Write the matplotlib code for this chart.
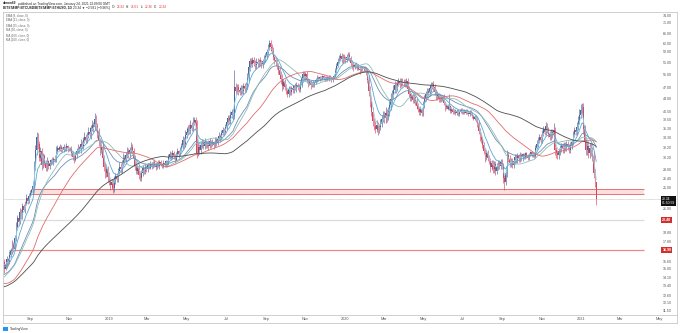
import numpy as np
import pandas as pd
import matplotlib
matplotlib.use('Agg')
import matplotlib.pyplot as plt
import matplotlib.dates as mdates
import matplotlib.transforms as mtransforms

# --- data (BTCUSD/ETHUSD ratio, sampled every 2 days) ---
# closes before the visible window, only used to warm up the moving averages
warmup_close = [
    13.0, 12.2, 11.6, 10.9, 10.5, 10.2, 10.8, 10.4, 9.9, 10.3, 9.7, 9.5, 9.8, 9.4,
    9.6, 9.9, 10.4, 10.8, 11.2, 10.9, 11.3, 11.0, 11.6, 12.0, 11.7, 12.1, 12.4, 12.2,
    12.6, 13.1, 13.5, 13.9, 14.3, 13.8, 14.2, 14.6, 15.1, 15.6, 16.2, 16.8, 17.3, 17.0, 17.6, 17.2,
    17.9, 18.3, 17.8, 17.4, 16.9, 16.2, 15.8, 15.3, 14.9, 14.4, 14.0, 13.6, 13.9, 13.5, 13.2,
    12.9, 12.7, 12.5, 12.2, 12.6, 12.4, 12.1, 12.3, 12.0, 12.5, 12.8, 12.6, 13.0, 12.7, 12.9,
    12.6, 12.8, 12.4, 12.7, 13.0, 12.8, 13.2, 13.5, 13.3, 13.8, 13.6, 14.0, 13.7, 14.1, 14.3,
    14.0, 14.4, 14.8, 14.5, 15.1, 15.5, 15.2, 15.8, 15.4, 15.9, 15.6,
]

first_bar = '2018-07-23'
bar_days = 2
close = [
    15.0, 15.4, 15.9, 15.6, 16.3,  # Jul 18
    16.8, 17.4, 17.0, 18.2, 19.5, 20.6, 20.1, 21.4, 21.0, 22.3, 21.8, 22.6, 23.4, 23.0, 23.8,  # Aug
    24.2, 24.6, 25.3, 28.5, 31.8, 34.6, 33.0, 30.2, 31.5, 28.9, 30.6, 29.3, 28.4, 29.6, 28.7,  # Sep
    29.2, 29.8, 29.4, 30.1, 29.7, 31.6, 32.2, 31.8, 32.4, 32.0, 31.7, 32.3, 31.9, 32.5, 32.1, 31.8,  # Oct
    32.0, 31.2, 30.4, 29.9, 30.8, 31.5, 32.3, 31.9, 33.0, 32.6, 33.8, 34.5, 33.9, 35.0, 35.6,  # Nov
    35.2, 36.5, 37.2, 36.8, 38.6, 37.0, 35.4, 33.6, 31.8, 32.4, 30.2, 28.6, 27.4, 28.2, 26.8,  # Dec
    26.0, 25.4, 25.9, 24.9, 26.1, 27.0, 26.5, 27.8, 28.6, 28.1, 29.3, 30.2, 29.6, 30.8, 31.5, 30.9,  # Jan 19
    31.8, 32.4, 31.6, 30.2, 28.8, 27.9, 28.4, 27.2, 26.6, 27.5, 28.3, 27.8, 28.6, 28.2,  # Feb
    28.9, 28.4, 29.1, 28.7, 29.4, 28.9, 28.5, 29.2, 28.8, 29.5, 29.0, 28.6, 29.3, 28.9, 29.6,  # Mar
    29.2, 30.3, 31.0, 30.4, 31.2, 30.6, 29.9, 30.8, 31.5, 30.9, 31.8, 32.6, 33.8, 33.1, 34.9,  # Apr
    35.6, 36.4, 35.8, 37.2, 36.6, 37.9, 38.5, 37.6, 31.2, 32.4, 31.7, 32.8, 33.3, 32.6, 33.5, 32.9,  # May
    33.2, 32.5, 33.6, 32.9, 33.4, 32.7, 33.8, 33.2, 34.1, 34.8, 34.2, 35.3, 36.1, 35.7, 36.8,  # Jun
    37.9, 38.8, 38.2, 39.6, 40.3, 39.5, 47.2, 46.1, 47.4, 46.5, 45.8, 47.0, 46.3, 47.5, 46.8,  # Jul
    47.8, 50.2, 53.6, 55.8, 54.9, 56.2, 55.1, 54.3, 55.6, 54.8, 56.0, 55.2, 54.6, 55.9, 56.7, 57.5,  # Aug
    59.2, 61.0, 62.4, 60.8, 59.6, 57.2, 56.0, 55.3, 54.1, 52.6, 51.2, 49.8, 47.6, 48.9, 47.3,  # Sep
    46.2, 45.4, 46.8, 45.9, 47.1, 46.4, 47.6, 46.9, 48.0, 47.3, 46.8, 48.2, 50.1, 51.3, 50.6,  # Oct
    51.4, 49.6, 48.3, 48.9, 47.8, 48.5, 47.9, 48.8, 49.5, 50.2, 49.7, 50.4, 49.9, 50.6, 50.1,  # Nov
    49.6, 50.3, 49.8, 50.5, 50.0, 49.5, 50.2, 50.8, 52.4, 54.1, 55.6, 56.8, 57.5, 56.4, 57.2, 56.6,  # Dec
    56.1, 57.3, 58.1, 56.9, 55.2, 54.3, 53.6, 54.5, 53.8, 54.2, 53.1, 52.6, 53.5, 52.9, 53.4,  # Jan 20
    52.8, 52.1, 49.6, 46.2, 43.1, 40.5, 38.2, 37.1, 36.4, 37.2, 36.0, 36.8, 37.5, 38.6, 39.4,  # Feb
    38.8, 40.1, 39.5, 40.6, 42.3, 43.8, 45.2, 46.4, 47.8, 47.1, 48.5, 49.2, 48.4, 49.0, 48.6,  # Mar
    48.9, 48.2, 49.1, 46.8, 45.2, 44.1, 44.8, 43.6, 44.3, 43.2, 42.0, 41.2, 40.5, 41.1, 40.2,  # Apr
    42.4, 44.1, 45.3, 46.2, 45.6, 46.9, 47.8, 48.3, 47.2, 45.9, 44.6, 45.2, 43.9, 44.5, 43.8, 44.3,  # May
    42.8, 41.6, 42.1, 41.3, 41.9, 40.6, 41.2, 40.3, 40.9, 40.1, 40.7, 39.9, 40.5, 41.0, 40.4,  # Jun
    40.8, 40.2, 40.9, 40.4, 39.8, 40.5, 40.0, 39.3, 38.7, 39.2, 38.4, 37.6, 35.8, 34.6, 33.9,  # Jul
    32.8, 31.6, 30.4, 31.1, 30.2, 29.6, 28.5, 29.2, 28.1, 29.0, 27.9, 28.6, 29.3, 28.8, 29.5, 28.7,  # Aug
    26.6, 25.9, 27.4, 30.8, 30.1, 29.2, 29.7, 28.9, 29.6, 30.3, 29.8, 30.6, 30.1, 30.8, 30.3,  # Sep
    30.9, 30.4, 31.1, 30.6, 30.2, 30.9, 31.3, 30.7, 31.0, 30.5, 32.2, 33.1, 33.8, 34.5, 33.9,  # Oct
    35.4, 36.2, 35.7, 36.9, 36.1, 35.2, 34.6, 35.5, 34.9, 36.0, 31.8, 31.2, 30.7, 31.5, 32.1,  # Nov
    32.6, 31.9, 32.8, 32.3, 33.0, 32.4, 31.8, 32.7, 33.4, 35.2, 36.1, 35.6, 36.8, 38.2, 39.6, 40.8,  # Dec
    41.6, 36.2, 33.4, 31.8, 32.6, 31.2, 32.2, 31.5, 30.6, 27.4, 25.9, 23.34,  # Jan 21
]

# wick lengths in percent above max(open, close) / below min(open, close)
wick_up = [
    2, 1, 2, 1, 3,
    2, 3, 2, 2, 3, 2, 1, 3, 2, 2, 1, 2, 3, 1, 2,
    2, 1, 3, 4, 3, 3, 2, 2, 3, 2, 2, 1, 2, 3, 1,
    2, 1, 2, 1, 2, 3, 2, 1, 2, 1, 1, 2, 1, 2, 1, 1,
    1, 2, 1, 1, 2, 2, 2, 1, 3, 2, 2, 3, 2, 2, 3,
    3, 2, 3, 2, 4, 3, 2, 3, 2, 4, 3, 2, 3, 3, 2,
    3, 2, 2, 2, 3, 2, 2, 2, 3, 2, 2, 3, 2, 2, 3, 2,
    2, 3, 2, 2, 2, 3, 2, 2, 2, 2, 2, 1, 2, 1,
    1, 1, 2, 1, 1, 2, 1, 1, 2, 1, 1, 1, 2, 1, 1,
    1, 2, 2, 1, 2, 1, 1, 2, 2, 1, 2, 2, 3, 2, 3,
    3, 2, 3, 3, 2, 3, 2, 2, 2, 3, 2, 2, 2, 2, 2, 1,
    1, 2, 2, 1, 2, 1, 2, 2, 2, 2, 1, 2, 2, 1, 2,
    2, 2, 2, 3, 2, 2, 12, 3, 2, 2, 2, 2, 2, 2, 2,
    2, 3, 3, 2, 2, 2, 2, 2, 2, 2, 1, 2, 2, 1, 2, 2,
    2, 2, 2, 2, 2, 2, 1, 2, 2, 2, 2, 2, 3, 2, 2,
    2, 1, 2, 2, 1, 2, 1, 2, 2, 1, 2, 2, 2, 2, 2,
    1, 2, 1, 2, 1, 1, 2, 1, 1, 2, 1, 1, 1, 1, 1,
    1, 1, 1, 1, 1, 1, 1, 1, 2, 2, 2, 2, 2, 2, 2, 2,
    2, 2, 2, 2, 1, 2, 2, 1, 2, 1, 1, 2, 1, 1, 1,
    1, 2, 2, 3, 3, 3, 3, 2, 3, 3, 2, 2, 3, 3, 3,
    3, 4, 3, 3, 4, 4, 3, 3, 3, 2, 2, 2, 2, 2, 2,
    2, 2, 2, 2, 2, 2, 2, 2, 2, 1, 2, 2, 1, 2, 1,
    2, 2, 2, 2, 2, 2, 2, 1, 2, 2, 2, 2, 1, 2, 1, 1,
    2, 1, 1, 1, 8, 1, 1, 1, 1, 1, 1, 1, 1, 1, 1,
    1, 1, 1, 1, 1, 1, 1, 1, 1, 1, 1, 2, 2, 2, 2,
    2, 2, 2, 2, 2, 2, 2, 2, 2, 2, 2, 2, 2, 2, 2, 2,
    2, 2, 3, 3, 2, 2, 2, 2, 2, 2, 2, 2, 1, 2, 1,
    1, 1, 1, 1, 1, 1, 1, 1, 1, 1, 2, 2, 2, 2, 2,
    2, 2, 2, 3, 2, 2, 2, 2, 2, 5, 2, 2, 2, 2, 2,
    2, 2, 2, 2, 2, 2, 2, 2, 2, 2, 2, 2, 3, 3, 4, 4,
    3, 3, 3, 3, 3, 3, 3, 3, 3, 3, 3, 0,
]
wick_down = [
    3, 1, 2, 2, 1,
    1, 2, 2, 1, 2, 2, 2, 1, 2, 2, 1, 2, 1, 2, 1,
    1, 1, 2, 2, 2, 3, 3, 2, 2, 3, 2, 2, 2, 2, 2,
    2, 1, 1, 2, 1, 1, 2, 1, 1, 2, 1, 1, 1, 1, 2, 1,
    1, 2, 2, 2, 1, 2, 1, 2, 2, 1, 2, 2, 2, 2, 2,
    2, 3, 2, 3, 2, 3, 3, 3, 3, 2, 3, 3, 3, 2, 3,
    2, 3, 2, 3, 2, 2, 2, 2, 2, 2, 2, 2, 2, 2, 2, 2,
    2, 2, 2, 3, 3, 2, 2, 3, 2, 2, 2, 2, 2, 2,
    2, 1, 1, 2, 1, 1, 2, 1, 1, 2, 1, 1, 1, 1, 1,
    2, 1, 1, 2, 1, 2, 2, 1, 1, 2, 1, 1, 2, 2, 2,
    2, 2, 2, 2, 2, 2, 2, 3, 3, 2, 2, 2, 2, 2, 2, 2,
    2, 2, 1, 2, 1, 2, 1, 2, 1, 1, 2, 1, 1, 2, 1,
    2, 2, 2, 2, 2, 2, 2, 2, 2, 3, 2, 2, 2, 2, 2,
    2, 2, 2, 2, 2, 2, 2, 2, 2, 2, 2, 2, 2, 2, 2, 2,
    2, 2, 2, 2, 2, 2, 2, 2, 2, 2, 2, 3, 3, 2, 2,
    2, 2, 2, 2, 2, 2, 2, 1, 2, 2, 2, 2, 2, 2, 2,
    2, 2, 2, 1, 2, 1, 1, 1, 1, 1, 1, 1, 1, 1, 1,
    1, 1, 1, 1, 1, 1, 1, 1, 1, 1, 1, 1, 2, 2, 2, 2,
    2, 1, 2, 2, 2, 2, 2, 1, 1, 2, 1, 2, 1, 1, 1,
    1, 2, 2, 3, 3, 3, 3, 3, 3, 2, 3, 2, 2, 2, 2,
    3, 3, 4, 3, 3, 3, 3, 3, 2, 3, 2, 2, 3, 2, 2,
    2, 2, 2, 2, 2, 2, 2, 2, 2, 2, 2, 2, 2, 2, 2,
    2, 2, 2, 2, 2, 2, 2, 2, 2, 2, 2, 2, 2, 2, 2, 1,
    1, 2, 1, 1, 1, 1, 1, 1, 1, 1, 1, 1, 1, 1, 1,
    1, 1, 1, 1, 1, 1, 1, 1, 1, 1, 1, 2, 2, 3, 2,
    2, 2, 3, 2, 2, 2, 3, 2, 2, 2, 3, 2, 2, 2, 2, 2,
    3, 5, 2, 2, 2, 2, 2, 2, 2, 2, 2, 2, 2, 2, 2,
    2, 1, 1, 1, 1, 1, 1, 1, 1, 1, 1, 1, 2, 2, 2,
    2, 2, 2, 2, 2, 2, 2, 2, 2, 2, 3, 3, 2, 2, 2,
    2, 2, 2, 2, 2, 2, 2, 2, 2, 2, 2, 2, 2, 2, 2, 2,
    3, 3, 3, 3, 3, 3, 3, 3, 3, 3, 3, 4,
]

# indicators on the daily chart (lengths in days)
ma_kinds = ['EMA', 'EMA', 'EMA', 'MA', 'MA', 'MA']
ma_lengths = [8, 21, 55, 50, 100, 200]
ma_colors = ['#8fd3ea', '#5aa7d6', '#6f8fb3', '#8fbdb6', '#e06c6c', '#4d4d4d']

support_band = (24.10, 24.75)
level_mid = 20.40
level_low = 16.90
band_start = '2018-09-02'
mid_start = '2018-08-17'
low_start = '2018-07-30'
lines_end = '2021-04-08'

price_ticks = [74.0, 71.0, 66.0, 62.0, 59.0, 55.0, 51.0, 47.0, 44.0, 40.5, 38.5, 36.3,
               34.3, 32.2, 30.2, 28.0, 26.4, 25.0, 21.9, 18.8, 17.8, 15.6, 15.0, 14.1,
               13.4, 12.6, 12.1, 11.5]
month_ticks = ['2018-09-01', '2018-11-01', '2019-01-01', '2019-03-01', '2019-05-01',
               '2019-07-01', '2019-09-01', '2019-11-01', '2020-01-01', '2020-03-01',
               '2020-05-01', '2020-07-01', '2020-09-01', '2020-11-01', '2021-01-01',
               '2021-03-01', '2021-05-01']
month_labels = ['Sep', 'Nov', '2019', 'Mar', 'May', 'Jul', 'Sep', 'Nov', '2020', 'Mar',
                'May', 'Jul', 'Sep', 'Nov', '2021', 'Mar', 'May']

# --- build OHLC ---
c = np.array(close)
o = np.concatenate([[warmup_close[-1]], c[:-1]])
h = np.maximum(o, c) * (1 + np.array(wick_up) / 100)
l = np.minimum(o, c) * (1 - np.array(wick_down) / 100)
dates = pd.date_range(first_bar, periods=len(c), freq=f'{bar_days}D')
full = pd.Series(warmup_close + close, dtype=float)
n_warm = len(warmup_close)

plt.rcParams['font.family'] = ['Liberation Sans', 'DejaVu Sans']
W, H = 680, 333
fig = plt.figure(figsize=(W / 100, H / 100), dpi=100)

def px(x, y):
    return x / W, 1 - y / H

ax = fig.add_axes([3 / W, 1 - 315 / H, 674 / W, 303 / H])
ax.set_yscale('log')
ax.set_ylim(11.18, 76.1)
ax.set_xlim(pd.Timestamp('2018-07-21'), pd.Timestamp('2021-05-29'))
ax.set_xticks([])
ax.set_yticks([])
ax.minorticks_off()
for s in ax.spines.values():
    s.set_color('#c8c8c8')
    s.set_linewidth(0.6)

# horizontal levels
d0 = mdates.date2num(pd.Timestamp(band_start))
d1 = mdates.date2num(pd.Timestamp(lines_end))
ax.fill_between([d0, d1], support_band[0], support_band[1], color='#fbdede', lw=0, zorder=1)
ax.hlines(list(support_band), d0, d1, color='#e57373', lw=0.7, zorder=1)
ax.hlines(level_mid, mdates.date2num(pd.Timestamp(mid_start)), d1, color='#dcdcdc', lw=0.9, zorder=1)
ax.hlines(level_low, mdates.date2num(pd.Timestamp(low_start)), d1, color='#e88a8a', lw=0.9, zorder=1)
ax.axhline(close[-1], color='#9a9a9a', lw=0.4, ls=(0, (1, 1)), zorder=1)

# candles
up = c >= o
up_col, dn_col = '#4f6496', '#d9475e'
cols = np.where(up, up_col, dn_col)
ax.vlines(dates, l, h, colors=cols, lw=0.45, zorder=2)
ax.bar(dates, np.abs(c - o), bottom=np.minimum(o, c), width=1.2, color=cols, lw=0, zorder=2)

# moving averages (daily lengths converted to bars)
for kind, n, col in zip(ma_kinds, ma_lengths, ma_colors):
    nb = max(2, int(round(n / bar_days)))
    if kind == 'EMA':
        s = full.ewm(span=nb, adjust=False).mean()
    else:
        s = full.rolling(nb, min_periods=1).mean()
    ax.plot(dates, s.values[n_warm:], color=col, lw=0.6, zorder=3)

# price scale labels
tr = mtransforms.blended_transform_factory(ax.transAxes, ax.transData)
x_lab = (663 - 3) / 674
for t in price_ticks:
    ax.text(x_lab, t, f'{t:.2f}', transform=tr, fontsize=2.6, color='#555555',
            ha='left', va='center')
for val in [level_mid, level_low]:
    ax.text(x_lab - 0.001, val, f'{val:.2f}', transform=tr, fontsize=2.6, color='white',
            ha='left', va='center', fontweight='bold',
            bbox=dict(boxstyle='square,pad=0.25', fc='#d32f2f', ec='none'))
ax.text(x_lab - 0.001, close[-1] * 1.01, f'{close[-1]:.2f}\n01:50:59', transform=tr, fontsize=2.4,
        color='white', ha='left', va='top', linespacing=1.1,
        bbox=dict(boxstyle='square,pad=0.25', fc='#111111', ec='none'))

# time axis strip
axt = fig.add_axes([3 / W, 1 - 323 / H, 674 / W, 8 / H], sharex=ax)
axt.set_xticks([])
axt.set_yticks([])
for s in axt.spines.values():
    s.set_color('#c8c8c8')
    s.set_linewidth(0.6)
trt = mtransforms.blended_transform_factory(axt.transData, axt.transAxes)
for d, lab in zip(month_ticks, month_labels):
    axt.text(pd.Timestamp(d), 0.45, lab, transform=trt, fontsize=2.8, color='#555555',
             ha='center', va='center')

# header rows, pieces placed one after another
renderer = fig.canvas.get_renderer()

def text_row(x, y, parts):
    for txt, kw in parts:
        t = fig.text(*px(x, y), txt, va='center', fontsize=2.3, **kw)
        x = t.get_window_extent(renderer).x1 + 1.5

text_row(3, 3.5, [('dimon69', dict(fontweight='bold', color='#222222')),
                  ('published on TradingView.com, January 24, 2021 22:09:00 GMT',
                   dict(color='#222222'))])
text_row(3, 7.5, [('BITSTAMP:BTCUSD/BITSTAMP:ETHUSD, 1D', dict(fontweight='bold', color='#222222')),
                  ('23.34 \u25bc \u22122.581 (\u22129.96%)', dict(color='#222222')),
                  ('O:', dict(color='#222222')), ('25.92', dict(color='#e53935')),
                  ('H:', dict(color='#222222')), ('26.01', dict(color='#e53935')),
                  ('L:', dict(color='#222222')), ('22.36', dict(color='#e53935')),
                  ('C:', dict(color='#222222')), ('23.34', dict(color='#e53935'))])

# indicator list
legend_labels = [f'{k} ({n}, close, 0)' for k, n in zip(ma_kinds, ma_lengths)]
for i, lab in enumerate(legend_labels):
    fig.text(*px(6, 15.5 + 5 * i), lab, fontsize=2.1, color='#666666', va='center')

# logo
fig.patches.append(plt.Rectangle(px(3, 331), 5 / W, 4 / H, transform=fig.transFigure,
                                 fc='#2196f3', ec='none'))
fig.text(*px(10, 329), 'TradingView', fontsize=2.4, color='#333333', va='center')

fig.savefig('out.png', dpi=100, facecolor='white')
